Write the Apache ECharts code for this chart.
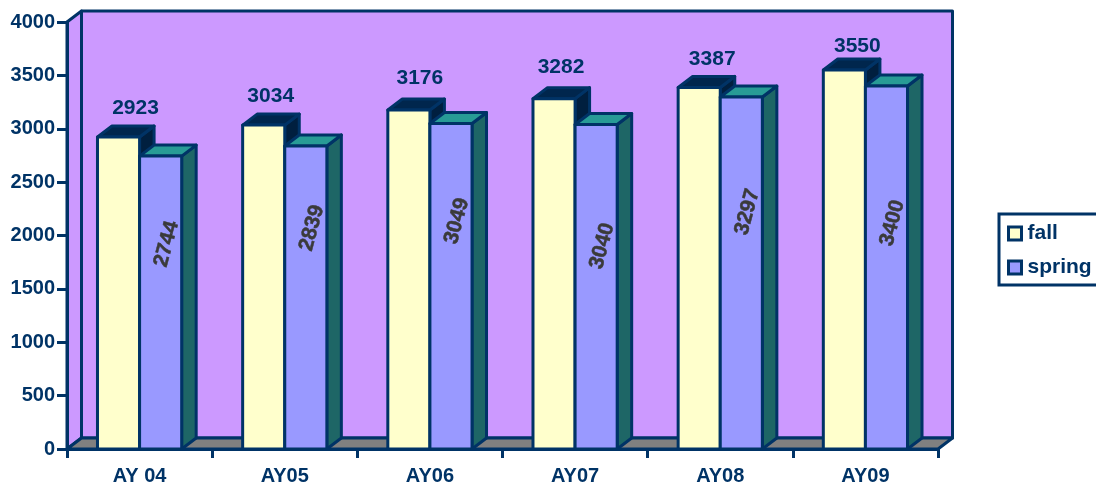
<!DOCTYPE html>
<html>
<head>
<meta charset="utf-8">
<style>
  html, body { margin: 0; padding: 0; background: #fff; }
  #chart { width: 1096px; height: 484px; }
</style>
<script src="https://cdn.jsdelivr.net/npm/echarts@6/dist/echarts.min.js"></script>
</head>
<body>
<div id="chart"></div>
<script>
const categories = ['AY 04', 'AY05', 'AY06', 'AY07', 'AY08', 'AY09']
const fall = [2923, 3034, 3176, 3282, 3387, 3550]
const spring = [2744, 2839, 3049, 3040, 3297, 3400]
const yTicks = [0, 500, 1000, 1500, 2000, 2500, 3000, 3500, 4000]

// label placement by hand, the source chart has them dragged around
const fallLabelShift = [[17, -29], [7, -29], [11, -32], [7, -31], [13, -28], [13, -24]]
const springLabelY = [244, 228, 221, 246, 212, 223]

const navy = '#003366'
const FONT = 'bold 21px "Liberation Sans", Arial, sans-serif'
const DX = 14.5
const DY = 11
const BAR = 0.29

const poly = (points, fill) => ({
	type: 'polygon',
	shape: { points },
	style: { fill, stroke: navy, lineWidth: 3, lineJoin: 'round' }
})

const renderWalls = (params) => {
	const c = params.coordSys
	const l = c.x
	const r = c.x + c.width
	const t = c.y
	const b = c.y + c.height
	return {
		type: 'group',
		children: [
			poly([[l, t], [l + DX, t - DY], [l + DX, b - DY], [l, b]], '#CC99FF'),
			poly([[l + DX, t - DY], [r + DX, t - DY], [r + DX, b - DY], [l + DX, b - DY]], '#CC99FF'),
			poly([[l, b], [l + DX, b - DY], [r + DX, b - DY], [r, b]], '#808080')
		]
	}
}

// one 3d box, side = -1 left of the category centre, 0 right of it
const renderBox = (side, front, top, flank, label) => (params, api) => {
	const i = api.value(0)
	const v = api.value(1)
	const p = api.coord([i, v])
	const base = api.coord([i, 0])
	const w = api.size([1, 0])[0] * BAR
	const x0 = p[0] + side * w
	const x1 = x0 + w
	const children = [
		poly([[x1, p[1]], [x1 + DX, p[1] - DY], [x1 + DX, base[1] - DY], [x1, base[1]]], flank),
		poly([[x0, p[1]], [x0 + DX, p[1] - DY], [x1 + DX, p[1] - DY], [x1, p[1]]], top),
		poly([[x0, p[1]], [x1, p[1]], [x1, base[1]], [x0, base[1]]], front)
	]
	children.push(label(i, v, x0, x1, p))
	return { type: 'group', children }
}

const fallLabel = (i, v, x0, x1, p) => ({
	type: 'text',
	z2: 10,
	x: (x0 + x1) / 2 + fallLabelShift[i][0],
	y: p[1] + fallLabelShift[i][1],
	style: { text: String(v), font: FONT, fill: navy, align: 'center', verticalAlign: 'middle' }
})

const springLabel = (i, v, x0, x1) => ({
	type: 'text',
	z2: 10,
	x: (x0 + x1) / 2 + 6,
	y: springLabelY[i],
	rotation: 1.31,
	style: {
		text: String(v),
		font: FONT,
		fill: '#3A3A3A',
		stroke: '#3A3A3A',
		lineWidth: 0.5,
		align: 'center',
		verticalAlign: 'middle'
	}
})

const myChart = echarts.init(document.getElementById('chart'))
myChart.setOption({
	animation: false,
	grid: { left: 67, right: 158, top: 22, bottom: 35, outerBoundsMode: 'none' },
	legend: {
		data: ['fall', 'spring'],
		orient: 'vertical',
		left: 999,
		top: 214,
		padding: [9, 30, 7, 8],
		itemGap: 13,
		itemWidth: 13,
		itemHeight: 13,
		icon: 'rect',
		backgroundColor: '#fff',
		borderColor: navy,
		borderWidth: 3,
		borderRadius: 0,
		itemStyle: { borderColor: navy, borderWidth: 3 },
		textStyle: { color: navy, fontFamily: 'Liberation Sans', fontWeight: 'bold', fontSize: 21, padding: [0, 0, 0, 1] }
	},
	xAxis: {
		type: 'category',
		data: categories,
		z: 5,
		axisLine: { lineStyle: { color: navy, width: 3 } },
		axisTick: { show: true, length: 9, alignWithLabel: false, lineStyle: { color: navy, width: 3 } },
		axisLabel: { color: navy, fontFamily: 'Liberation Sans', fontWeight: 'bold', fontSize: 20, margin: 17 }
	},
	yAxis: {
		type: 'value',
		min: yTicks[0],
		max: yTicks[yTicks.length - 1],
		interval: 500,
		z: 5,
		splitLine: { show: false },
		axisLine: { show: true, lineStyle: { color: navy, width: 3 } },
		axisTick: { show: true, length: 10, lineStyle: { color: navy, width: 3 } },
		axisLabel: {
			color: navy,
			fontFamily: 'Liberation Sans',
			fontWeight: 'bold',
			fontSize: 20,
			margin: 12,
			formatter: (v) => String(v)
		}
	},
	series: [
		{
			type: 'custom',
			name: 'walls',
			silent: true,
			z: 1,
			data: [[0, 0]],
			renderItem: renderWalls
		},
		{
			type: 'custom',
			name: 'fall',
			z: 2,
			itemStyle: { color: '#FFFFCC' },
			data: fall.map((v, i) => [i, v]),
			renderItem: renderBox(-1, '#FFFFCC', '#00264D', '#001F3F', fallLabel)
		},
		{
			type: 'custom',
			name: 'spring',
			z: 3,
			itemStyle: { color: '#9999FF' },
			data: spring.map((v, i) => [i, v]),
			renderItem: renderBox(0, '#9999FF', '#289B96', '#1E6666', springLabel)
		}
	]
})
</script>
</body>
</html>
